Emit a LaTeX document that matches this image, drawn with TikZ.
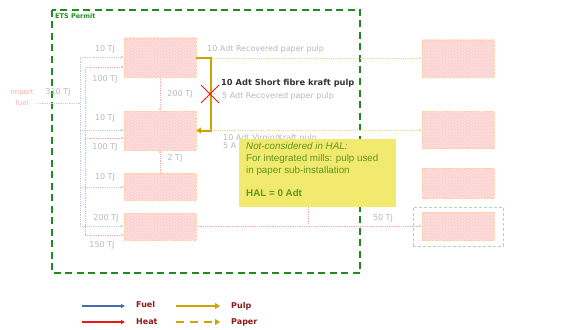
\documentclass[tikz,border=0pt]{standalone}
\usepackage{fontspec}
\setmainfont{DejaVu Sans}
\newfontfamily\arialf{Liberation Sans}
\usetikzlibrary{patterns,arrows.meta,calc}
\definecolor{fuelc}{RGB}{70,110,170}
\definecolor{heatc}{RGB}{240,20,20}
\definecolor{pulpc}{RGB}{204,163,0}
\definecolor{labc}{RGB}{140,25,25}
\definecolor{etsg}{RGB}{30,140,30}
\definecolor{notefill}{RGB}{242,234,110}
\definecolor{notetext}{RGB}{95,150,30}
\tikzset{
  ghostbox/.style={minimum width=72pt,minimum height=39pt,inner sep=0pt,draw=orange!35,densely dotted,preaction={fill=red!8},pattern=crosshatch,pattern color=red!45},
  ghosttxt/.style={text=black!28,font=\fontsize{8}{9}\selectfont,inner sep=1pt},
  ghostfuel/.style={draw=fuelc!35,densely dotted,line width=0.8pt,-{Stealth[length=3pt]}},
  ghostheat/.style={draw=heatc!35,densely dotted,line width=0.8pt,-{Stealth[length=3pt]}},
  ghostpulp/.style={draw=pulpc!40,densely dotted,line width=0.8pt,-{Stealth[length=3pt]}},
  pulpline/.style={draw=pulpc,line width=2pt,-{Triangle[length=5pt,width=6pt]}},
  legtxt/.style={text=labc,font=\fontsize{8}{9}\bfseries\selectfont,anchor=west,inner sep=0pt},
  ets/.style={draw=etsg,line width=1.4pt,dash pattern=on 7pt off 4.5pt},
}
\begin{document}
\begin{tikzpicture}[x=1pt,y=-1pt]
\useasboundingbox (0,0) rectangle (564,329);
% ETS permit box
\draw[ets] (52,10) rectangle (360,273);
\node[anchor=west,text=etsg,font=\fontsize{6.5}{7}\bfseries\selectfont,inner sep=0pt] (etslab) at (55,16) {ETS Permit};
% ghost boxes left
\node[ghostbox] (b1) at (160,57.5) {};
\node[ghostbox] (b2) at (160,130.5) {};
\node[ghostbox,minimum height=27pt] (b3) at (160,186.5) {};
\node[ghostbox,minimum height=27pt] (b4) at (160,226.5) {};
% ghost boxes right
\node[ghostbox,minimum height=37pt] (r1) at (458,58.5) {};
\node[ghostbox,minimum height=37pt] (r2) at (458,130) {};
\node[ghostbox,minimum height=30pt] (r3) at (458,183) {};
\node[ghostbox,minimum height=28pt] (r4) at (458,226) {};
\node[draw=etsg!35,densely dashed,minimum width=90pt,minimum height=39pt,inner sep=0pt] (r4frame) at (458,226.5) {};
% import fuel
\node[ghosttxt,text=heatc!35,align=center,font=\fontsize{7}{11}\selectfont] (imp) at (22,97) {Import\\fuel};
\node[ghosttxt] (t310) at (58,92) {310 TJ};
\coordinate (impE) at (38,103);
\coordinate (fv1) at (80,103);
\coordinate (fvtop) at (80,57);
\coordinate (fvbot) at (80,226);
\draw[draw=fuelc!35,densely dotted,line width=0.8pt] (impE) -- (fv1);
\draw[draw=fuelc!35,densely dotted,line width=0.8pt] (fvtop) -- (fvbot);
\draw[ghostfuel] (fvtop) -- (b1.west |- fvtop);
\coordinate (f2) at (80,130);
\draw[ghostfuel] (f2) -- (b2.west |- f2);
\coordinate (f3) at (80,187);
\draw[ghostfuel] (f3) -- (b3.west |- f3);
\draw[ghostfuel] (fvbot) -- (b4.west |- fvbot);
% heat feed
\coordinate (hvtop) at (85,67);
\coordinate (hvbot) at (85,235);
\draw[draw=heatc!35,densely dotted,line width=0.8pt] (hvtop) -- (hvbot);
\draw[ghostheat] (hvtop) -- (b1.west |- hvtop);
\coordinate (h2) at (85,138);
\draw[ghostheat] (h2) -- (b2.west |- h2);
\draw[ghostheat] (hvbot) -- (b4.west |- hvbot);
% ghost labels left
\node[ghosttxt] (l1) at (105,49) {10 TJ};
\node[ghosttxt] (l2) at (105,79) {100 TJ};
\node[ghosttxt] (l3) at (105,118) {10 TJ};
\node[ghosttxt] (l4) at (105,147) {100 TJ};
\node[ghosttxt] (l5) at (105,177) {10 TJ};
\node[ghosttxt] (l6) at (106,218) {200 TJ};
\node[ghosttxt] (l7) at (102,245) {150 TJ};
% heat between boxes
\coordinate (hb1) at (160,77);
\draw[ghostheat] (hb1) -- (b2.north -| hb1);
\node[ghosttxt] (l8) at (180,94) {200 TJ};
\coordinate (hb3) at (160,173);
\draw[ghostheat] (hb3) -- (b2.south -| hb3);
\node[ghosttxt] (l9) at (175,158) {2 TJ};
% ghost pulp lines to right
\coordinate (p1) at (196,58);
\draw[ghostpulp] (p1) -- (r1.west |- p1);
\node[ghosttxt,anchor=west] (l10) at (206,49) {10 Adt Recovered paper pulp};
\node[ghosttxt,anchor=west] (l11) at (221,96) {5 Adt Recovered paper pulp};
\coordinate (p2) at (211,130);
\draw[ghostpulp] (p2) -- (r2.west |- p2);
\node[ghosttxt,anchor=west] (l12) at (222,138) {10 Adt Virgin/Kraft pulp};
\node[ghosttxt,anchor=west] (l13) at (222,146) {5 A};
% heat to right
\coordinate (hr) at (196,226);
\draw[ghostheat] (hr) -- (r4.west |- hr);
\node[ghosttxt] (l14) at (383,218) {50 TJ};
\coordinate (hv2) at (308,207);
\coordinate (hv2b) at (308,224);
\draw[draw=heatc!35,densely dotted,line width=0.8pt] (hv2) -- (hv2b);
% main pulp arrow
\draw[pulpline] (b1.east |- p1) -- ++(15,0) |- (b2.east);
\node[anchor=west,text=black!80,font=\fontsize{8.3}{9}\bfseries\selectfont,inner sep=0pt] (sfk) at (221,83) {10 Adt Short fibre kraft pulp};
% red cross
\coordinate (xc) at (210,94);
\draw[heatc,line width=1pt] ($(xc)+(-9,-9)$) -- ($(xc)+(9,9)$);
\draw[heatc,line width=1pt] ($(xc)+(-9,9)$) -- ($(xc)+(9,-9)$);
% note
\node[fill=notefill,minimum width=157pt,minimum height=68pt,inner sep=0pt] (note) at (317.5,173) {};
\node[anchor=north west,align=left,text=notetext,font=\arialf\fontsize{9.8}{12}\selectfont,inner sep=0pt] (notetxt) at (246,142) {\textit{Not-considered in HAL:}\\For integrated mills: pulp used\\in paper sub-installation\\[11pt]\textbf{HAL = 0 Adt}};
% legend
\coordinate (lf1) at (82,306);
\coordinate (lf2) at (125,306);
\coordinate (lh1) at (82,322);
\coordinate (lh2) at (125,322);
\coordinate (lp1) at (176,306);
\coordinate (lp2) at (220,306);
\coordinate (lq1) at (176,322);
\coordinate (lq2) at (220,322);
\draw[fuelc,line width=1.2pt,-{Triangle[length=4pt,width=4pt]}] (lf1) -- (lf2);
\draw[heatc,line width=1.2pt,-{Triangle[length=4pt,width=4pt]}] (lh1) -- (lh2);
\draw[pulpc,line width=2pt,-{Triangle[length=5pt,width=6pt]}] (lp1) -- (lp2);
\draw[pulpc,line width=2pt,dash pattern=on 8pt off 6pt,-{Triangle[length=5pt,width=6pt]}] (lq1) -- (lq2);
\node[legtxt] (lfuel) at (136,305) {Fuel};
\node[legtxt] (lheat) at (136,322) {Heat};
\node[legtxt] (lpulp) at (231,306) {Pulp};
\node[legtxt] (lpaper) at (231,322) {Paper};
\end{tikzpicture}
\end{document}
